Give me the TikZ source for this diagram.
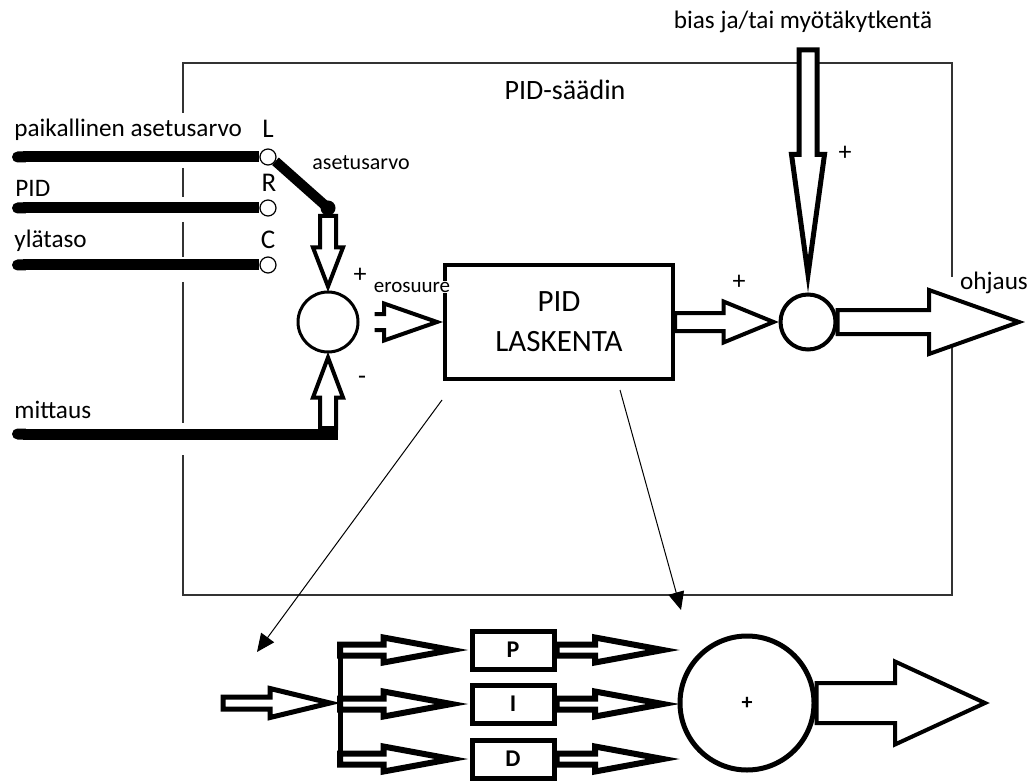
\documentclass[tikz,border=0pt]{standalone}
\usepackage{fontspec}
\setmainfont{Carlito}
\usetikzlibrary{arrows.meta,calc,positioning}

\begin{document}
\begin{tikzpicture}[
		x=0.5pt,
		y=-0.5pt,
		lbl/.style={inner sep=1pt, font=\fontsize{12.6}{14}\selectfont},
		sml/.style={inner sep=0.5pt, font=\fontsize{10.5}{12}\selectfont},
		key/.style={inner sep=0pt, font=\fontsize{13.5}{15}\selectfont},
		sign/.style={inner sep=0pt, font=\fontsize{13}{14}\selectfont},
		term/.style={circle, draw, line width=0.6pt, fill=white, minimum size=8pt, inner sep=0pt},
		sum/.style={circle, draw, fill=white, inner sep=0pt},
		block/.style={draw, fill=white, inner sep=0pt},
		part/.style={block, line width=2.5pt, minimum width=41pt, minimum height=19pt, font=\bfseries\fontsize{12}{14}\selectfont},
		frame/.style={line width=0.6pt, black!80},
		wire/.style={line width=5.5pt, {Round Cap[]}-},
		thin arrow/.style={line width=0.5pt, -{Triangle[length=9pt, width=8pt]}},
		fat line/.style={draw, fill=white, line width=2pt},
		branch/.style={fat line, line width=3pt, fat={2.75pt}{6.25pt}{34pt}},
		fa/.style={shift={(\p1)}, rotate=\n1},
		fat path/.style n args={4}{
			to path={
				let \p1=(\tikztostart), \p2=(\tikztotarget),
					\n1={atan2(\y2-\y1,\x2-\x1)}, \n2={veclen(\x2-\x1,\y2-\y1)} in
				([fa]0pt,#1) -- ([fa]{\n2*1pt-#3},#1) -- ([fa]{\n2*1pt-#3},#2)
				-- ([fa]{\n2*1pt},0pt) -- ([fa]{\n2*1pt-#3},-#2) -- ([fa]{\n2*1pt-#3},-#1)
				-- ([fa]0pt,-#1) #4
			}
		},
		fat/.style n args={3}{fat path={#1}{#2}{#3}{-- cycle}},
		fat open/.style n args={3}{fat path={#1}{#2}{#3}{}}
	]
	\useasboundingbox (0,0) rectangle (1031,780);

	\draw[frame] (183,113) -- (183,63) -- (952,63) -- (952,277);
	\draw[frame] (952,340) -- (952,595) -- (183,595) -- (183,455);
	\draw[frame] (183,168) -- (183,197) (183,222) -- (183,257) (183,282) -- (183,423);
	\node[lbl, font=\fontsize{14}{16}\selectfont] (title) at (565,90) {PID-säädin};

	\node[lbl, anchor=west] (lLocal) at (12,130) {paikallinen asetusarvo};
	\node[lbl, anchor=west] (lPid) at (13,188) {PID};
	\node[lbl, anchor=west] (lUpper) at (12,241) {ylätaso};
	\node[lbl, anchor=west] (lMeas) at (12,410) {mittaus};

	\node[term] (tL) at (268,157) {};
	\node[term] (tR) at (268,208) {};
	\node[term] (tC) at (268,265) {};
	\node[key] (kL) at (268,129) {L};
	\node[key] (kR) at (269,183) {R};
	\node[key] (kC) at (268,240) {C};

	\coordinate (inL) at (12,157);
	\coordinate (inR) at (12,208);
	\coordinate (inC) at (12,265);
	\draw[wire] (inL) -- (tL.west);
	\draw[wire] (inR) -- (tR.west);
	\draw[wire] (inC) -- (tC.west);

	\node[circle, fill, inner sep=0pt, minimum size=7.5pt] (blob) at (328,208) {};
	\draw[line width=5pt] (tL.-30) -- (blob.center);
	\node[lbl, font=\fontsize{11}{13}\selectfont] (lSet) at (361,163) {asetusarvo};

	\node[sum, line width=1.5pt, minimum size=30pt] (sum1) at (328,322) {};
	\draw[fat line, fat={4pt}{7.5pt}{19.5pt}] (blob.south) to ([yshift=2pt]sum1.north);
	\node[sign] (pSet) at (360,275) {+};
	\node[sign] (pMeas) at (362,380) {-};

	\coordinate (meas) at (12,434);
	\coordinate (measUp) at (328,428);
	\coordinate (measEnd) at (338,434);
	\draw[fat line, fat={4pt}{7.5pt}{20pt}] (measUp) to ([yshift=-2pt]sum1.south);
	\draw[wire] (meas) -- (measEnd);

	\node[block, line width=2pt, minimum width=114pt, minimum height=56.5pt, align=center, font=\fontsize{15.5}{20}\selectfont] (pid) at (559,322) {PID\\LASKENTA};
	\draw[fat line, fat open={4pt}{9.25pt}{26.5pt}] ([xshift=7.5pt]sum1.east) to ([xshift=-3pt]pid.west);
	\node[sml, fill=white] (lErr) at (412,287) {erosuure};

	\node[sum, line width=2pt, minimum size=27.5pt] (sum2) at (808,322) {};
	\draw[fat line, fat={4.5pt}{10.25pt}{25pt}] (pid.east) to ([xshift=-2.5pt]sum2.west);
	\node[sign] (pCtl) at (739,282) {+};

	\coordinate (biasTop) at (808,50);
	\draw[fat line, line width=2.5pt, fat={4.5pt}{8.25pt}{60pt}] (biasTop) to ([yshift=9pt]sum2.north);
	\node[sign] (pBias) at (845,153) {+};
	\node[lbl] (lBias) at (803,22) {bias ja/tai myötäkytkentä};

	\coordinate (outTip) at (1019,322);
	\draw[fat line, fat={6pt}{16pt}{45pt}] (sum2.east) to (outTip);
	\node[lbl] (lOut) at (994,283) {ohjaus};

	\coordinate (zoomA) at (442,400);
	\coordinate (zoomAend) at (257,652);
	\coordinate (zoomB) at (620,390);
	\coordinate (zoomBend) at (681,610);
	\draw[thin arrow] (zoomA) -- (zoomAend);
	\draw[thin arrow] (zoomB) -- (zoomBend);

	\coordinate (pIn) at (223,703);
	\coordinate (busTop) at (340,643);
	\coordinate (busMid) at (340,703);
	\coordinate (busBot) at (340,763);
	\draw[fat line, line width=2.5pt, fat={3pt}{7.25pt}{30pt}] (pIn) to ([xshift=-5pt]busMid);
	\draw[line width=2.5pt] (busTop) -- (busBot);

	\node[part] (bP) at (513,650) {P};
	\node[part] (bI) at (513,704) {I};
	\node[part] (bD) at (513,759) {D};
	\draw[branch] (busTop |- bP.west) to ([xshift=-9pt]bP.west);
	\draw[branch] (busTop |- bI.west) to ([xshift=-9pt]bI.west);
	\draw[branch] (busTop |- bD.west) to ([xshift=-9pt]bD.west);

	\node[sum, line width=2.5pt, minimum size=67pt, font=\bfseries\fontsize{11}{12}\selectfont] (bigSum) at (747,703) {+};
	\coordinate (tipP) at (663,650);
	\coordinate (tipI) at (663,704);
	\coordinate (tipD) at (663,759);
	\draw[branch] (bP.east) to (tipP);
	\draw[branch] (bI.east) to (tipI);
	\draw[branch] (bD.east) to (tipD);

	\coordinate (bigTip) at (985,703);
	\draw[fat line, fat={10pt}{20.75pt}{45pt}] (bigSum.east) to (bigTip);
\end{tikzpicture}
\end{document}
